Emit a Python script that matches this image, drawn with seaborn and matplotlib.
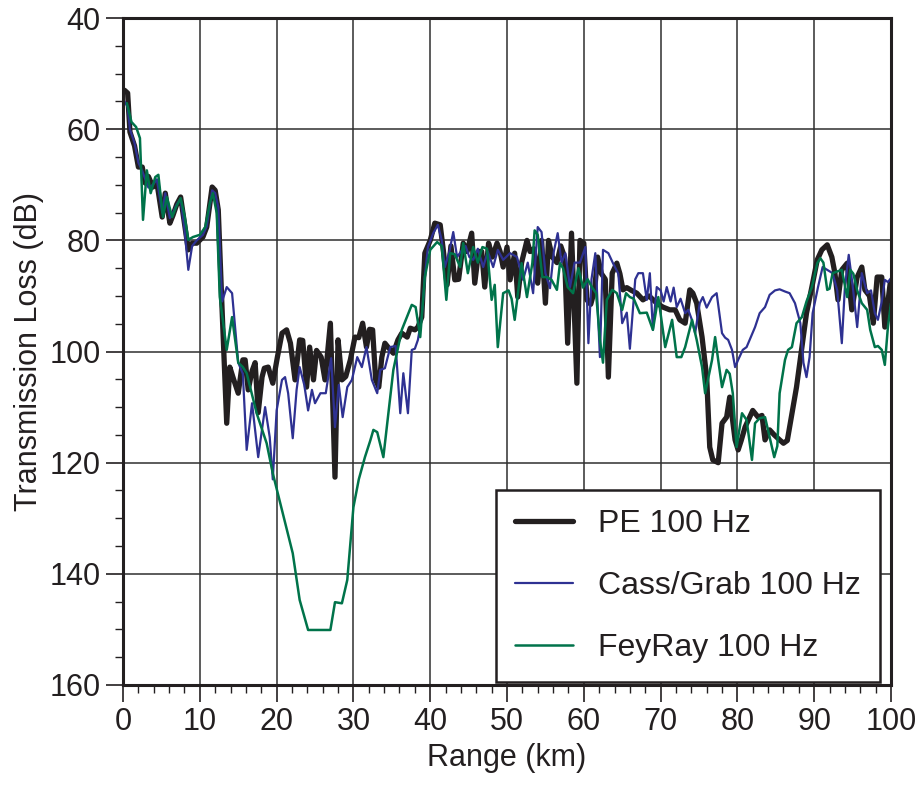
import matplotlib
matplotlib.use("Agg")
import matplotlib.pyplot as plt
from matplotlib.ticker import MultipleLocator
import seaborn as sns

# PE 100 Hz (thick black)
pe_range = [0.2, 0.6, 0.9, 1.5, 2.0, 2.5, 2.9, 3.3, 3.9, 4.4, 5.1, 5.5, 6.1, 6.5, 7.0, 7.5, 8.0, 8.5, 9.0, 9.6,
            10.4, 10.9, 11.6, 12.0, 12.4, 12.9, 13.5, 13.9, 14.4, 15.0, 15.6, 15.9, 16.3, 16.8, 17.2, 17.6, 18.1, 18.4, 18.9, 19.5,
            20.1, 20.7, 21.3, 21.8, 22.4, 23.0, 23.4, 23.9, 24.3, 24.8, 25.2, 25.8, 26.3, 27.0, 27.6, 28.0, 28.5, 29.0, 29.6, 30.2,
            30.7, 31.2, 31.7, 32.1, 32.5, 32.9, 33.3, 33.7, 34.1, 34.5, 35.2, 35.8, 36.3, 37.0, 37.4, 38.0, 38.4, 38.9, 39.3, 40.0,
            40.6, 41.3, 41.7, 42.2, 42.7, 43.2, 43.7, 44.3, 44.8, 45.4, 45.8, 46.3, 46.7, 47.1, 47.6, 48.1, 48.7, 49.1, 49.5, 50.0,
            50.4, 51.0, 51.4, 51.9, 52.6, 53.0, 53.5, 54.0, 54.5, 55.0, 55.4, 55.9, 56.5, 57.0, 57.5, 57.9, 58.4, 59.1, 59.5, 60.0,
            60.4, 60.9, 61.4, 61.8, 62.3, 62.8, 63.2, 63.7, 64.3, 64.7, 65.1, 65.6, 66.2, 66.9, 67.7, 68.5, 69.5, 70.3, 71.2, 71.9,
            72.5, 73.2, 73.8, 74.2, 74.7, 75.4, 76.0, 76.4, 76.8, 77.5, 78.0, 78.6, 79.0, 79.7, 80.1, 80.5, 81.0, 81.6, 82.0, 82.7,
            83.2, 83.6, 84.2, 84.8, 85.5, 86.0, 86.5, 87.0, 87.7, 88.4, 89.0, 89.7, 90.4, 91.0, 91.7, 92.3, 92.7, 93.1, 93.6, 94.3,
            94.9, 95.6, 96.2, 96.6, 97.2, 97.7, 98.2, 98.8, 99.2, 99.9]
pe_loss = [53, 53.5, 60.5, 63, 66.8, 66.8, 69.7, 68.5, 70.4, 69.5, 75.8, 71.5, 76.9, 75.5, 73.5, 72.2, 77, 81.7, 80.5, 80.5,
           79.4, 77.6, 70.4, 71, 74.5, 92.5, 112.9, 102.8, 105, 107.5, 101.5, 101.5, 106.9, 103.5, 102, 111, 104.6, 103, 102.8, 105.7,
           101, 96.7, 96.1, 98.5, 105.1, 97.9, 98, 106.4, 99.2, 105.1, 99.8, 101, 105.1, 94.9, 122.6, 97.9, 105.1, 104.5, 101.5, 97.4,
           97.5, 94.9, 99.2, 96, 96.1, 105.1, 106.4, 101, 98.5, 99.2, 100.3, 97.9, 96.7, 97.4, 95.8, 96.1, 95.6, 93.8, 82.3, 80,
           76.9, 77.2, 81.7, 88, 81, 87.1, 87, 80.5, 82, 78.7, 87.7, 82, 82, 88.4, 80.5, 83, 80.5, 82, 84.8, 81.2,
           87.1, 82.3, 90.2, 84, 80, 82, 81.5, 87.7, 80, 91.3, 80, 83, 84, 81, 83, 98.5, 78.7, 105.7, 80, 80.5,
           90.7, 91.5, 89, 83, 86, 87, 104.6, 85.9, 84.1, 86, 88.9, 88.5, 89, 89.5, 90.7, 90, 91.3, 92, 92.5, 92.5,
           94.3, 94.9, 88.9, 89.5, 91.3, 97.4, 104.6, 117.2, 119.5, 120, 112.9, 111.8, 108.2, 115.9, 117.7, 116, 113.6, 111.8, 110.6, 111.8,
           111.5, 115.9, 114.1, 115, 115.9, 116.5, 116, 112, 106.4, 99.2, 93.1, 88.4, 83.5, 81.7, 80.8, 83, 85.9, 90.7, 85.3, 84.1,
           92.5, 86.6, 84.8, 88.9, 90, 94.9, 86.6, 86.6, 95.6, 87.7]

# Cass/Grab 100 Hz (blue)
cass_range = [0.2, 0.6, 0.9, 1.5, 2.0, 2.5, 2.9, 3.3, 3.9, 4.4, 5.1, 5.5, 6.1, 6.5, 7.0, 7.5, 8.0, 8.5, 9.0, 9.6,
              10.4, 10.9, 11.6, 12.0, 12.4, 12.9, 13.5, 14.2, 15.0, 15.6, 16.1, 16.8, 17.6, 18.5, 19.1, 19.5, 20.0, 20.7, 21.1, 21.5,
              22.1, 22.6, 23.0, 23.6, 24.1, 24.6, 25.0, 25.7, 26.4, 27.1, 27.6, 28.1, 28.6, 29.2, 29.8, 30.5, 31.1, 31.7, 32.4, 33.1,
              33.5, 34.1, 34.8, 35.5, 36.1, 36.5, 37.1, 37.6, 38.0, 38.4, 38.9, 39.3, 39.7, 40.4, 41.0, 41.5, 41.9, 42.5, 43.0, 43.5,
              44.0, 44.6, 45.1, 45.6, 46.2, 46.9, 47.5, 48.2, 48.8, 49.5, 50.4, 51.3, 52.1, 52.7, 53.4, 54.0, 54.5, 55.0, 55.6, 56.1,
              56.6, 57.1, 57.6, 58.2, 58.8, 59.5, 60.2, 60.6, 61.0, 61.5, 62.1, 62.5, 63.2, 63.8, 64.5, 65.0, 65.6, 66.0, 66.7, 67.1,
              67.7, 68.2, 68.6, 69.0, 69.5, 70.0, 70.4, 70.8, 71.3, 71.7, 72.1, 72.6, 73.2, 73.6, 74.0, 74.5, 75.1, 75.5, 76.0, 76.7,
              77.3, 78.0, 78.4, 78.8, 79.3, 79.7, 80.1, 80.7, 81.2, 81.6, 82.3, 82.9, 83.6, 84.2, 84.9, 85.5, 86.2, 86.8, 87.5, 88.2,
              88.6, 89.0, 89.4, 89.8, 90.5, 91.1, 91.7, 92.4, 93.0, 93.6, 94.0, 94.5, 95.0, 95.6, 96.2, 96.9, 97.4, 97.9, 98.3, 98.8,
              99.2, 99.6, 100.0]
cass_loss = [55, 56, 60, 62.5, 66, 67.5, 69, 70.5, 70, 69, 75, 71.5, 76, 75, 73.5, 72.5, 78, 85.3, 81, 80,
             79, 77.5, 71, 71.5, 74, 91, 88.4, 89.5, 102, 104, 117.7, 109.3, 119, 110, 115.4, 123, 110.6, 105.1, 104.6, 107.5,
             115.6, 106.9, 102.8, 106, 110.6, 106.9, 109.3, 107.5, 107.5, 101.2, 113.6, 106, 111.8, 106.4, 105.1, 101, 102.8, 99.2, 105.1, 107.5,
             103.3, 103, 99.2, 99, 111.1, 103.9, 111.1, 99.7, 99.5, 97.9, 93.8, 86.6, 81.2, 78.7, 77.2, 80, 84.8, 82, 78.5, 83,
             82, 81, 83, 83.5, 81.5, 84.8, 82, 84.8, 81.7, 83.5, 82.3, 83, 87.1, 84, 89.5, 77.6, 78.5, 85.9, 88.6, 82,
             78.7, 84, 82.3, 88.4, 84, 84, 81.2, 98.5, 87, 82.3, 101, 81.7, 82.3, 84.1, 86, 94.9, 93, 99.5, 87, 85.9,
             85.9, 90.7, 85.9, 96.1, 88.4, 89, 91, 88.4, 91, 88.5, 92, 90.5, 93.1, 92.5, 94, 96.7, 91.3, 90.2, 92.1, 90.2,
             89.5, 96.7, 97.5, 97.9, 99.7, 102.8, 101.5, 99.7, 99.2, 97.9, 95.6, 93.1, 92, 89.8, 89, 88.8, 89.2, 89.5, 91.3, 94.9,
             102, 104.6, 101, 93.1, 88.4, 84.8, 85.3, 85.9, 89, 98.5, 88.4, 82.6, 88, 95.6, 85.9, 89.5, 89, 93.1, 94.3, 91,
             87.1, 87.5, 86.8]

# FeyRay 100 Hz (green)
fey_range = [0.5, 1.1, 1.7, 2.2, 2.6, 3.1, 3.6, 4.2, 4.6, 5.2, 5.7, 6.4, 6.9, 7.5, 8.0, 8.5, 9.1, 10.0, 10.7, 11.3,
             11.7, 12.2, 12.6, 13.5, 14.2, 15.0, 15.6, 16.1, 17.4, 18.7, 19.5, 20.8, 22.1, 23.0, 24.1, 27.0, 27.6, 28.5, 29.2, 30.0,
             30.7, 31.5, 32.2, 32.6, 33.1, 33.9, 35.2, 36.3, 37.6, 38.1, 38.7, 39.3, 40.0, 40.9, 41.5, 42.1, 42.6, 43.2, 43.9, 44.3,
             44.9, 45.6, 46.2, 46.8, 47.4, 48.0, 48.4, 48.8, 49.5, 50.2, 50.6, 51.0, 51.9, 52.6, 53.3, 53.6, 54.0, 54.6, 55.2, 55.8,
             56.5, 56.9, 57.3, 57.9, 58.6, 59.3, 59.9, 60.5, 61.1, 61.6, 62.1, 62.5, 63.0, 63.7, 64.3, 65.0, 65.5, 66.0, 66.5, 67.3,
             68.2, 69.0, 69.7, 70.6, 71.5, 72.1, 72.7, 73.2, 74.1, 74.7, 75.4, 75.8, 76.7, 77.1, 77.5, 78.0, 78.6, 79.0, 79.4, 79.9,
             80.6, 81.2, 81.9, 82.3, 82.9, 83.6, 84.2, 84.8, 85.2, 85.5, 86.2, 86.6, 87.1, 87.7, 88.4, 89.0, 89.7, 90.4, 90.8, 91.2,
             91.7, 92.0, 92.4, 93.6, 94.3, 94.7, 95.1, 95.6, 96.2, 96.9, 97.3, 97.9, 98.3, 98.8, 99.2, 99.6, 100.0]
fey_loss = [55.3, 58.7, 59.6, 61.6, 76.3, 67.4, 71.5, 68.6, 68.2, 75.8, 72.2, 75.8, 74, 72.4, 75.5, 79.9, 79.4, 79, 77.6, 73.3,
            71.5, 75.1, 90.2, 99.7, 93.8, 102, 102.8, 103.9, 111.1, 116.5, 121.9, 129.1, 136.3, 144.7, 150.1, 150.1, 145.1, 145.3, 141.1, 128,
            123, 119, 116, 114.1, 114.5, 119, 103.3, 96.1, 91.6, 92, 97.4, 86.6, 81.7, 80.3, 81, 90.7, 82.3, 82.5, 84.8, 80.5,
            85.9, 81.2, 84, 81.2, 81.5, 90.7, 88, 99.2, 89.5, 89, 90.5, 94.3, 84.1, 90.2, 84.1, 78.2, 79, 86.6, 86.6, 87.1,
            88.9, 84.1, 85, 88.4, 89.5, 85, 88.5, 87, 88.5, 89.5, 97.9, 102, 90.7, 88.9, 89.5, 92.5, 89.5, 90.2, 90.5, 93.1,
            93, 96.1, 90.2, 99.2, 94.3, 101, 101, 99.2, 94.3, 97.9, 102.8, 107.5, 101.5, 97.4, 101.5, 106.4, 103.3, 104, 107.5, 117.2,
            111.1, 112.3, 119.5, 112.9, 112, 111.8, 115.4, 119, 117, 107.5, 101.5, 99.7, 99.2, 94.9, 93.8, 91, 88.4, 84.1, 83.2, 84,
            88.9, 88.7, 85.9, 85.3, 90.2, 85.3, 86, 89, 91.3, 92.5, 96.1, 99.2, 99, 99.7, 102.4, 95.6, 91.3]

sns.set_style("ticks")
plt.rcParams["font.family"] = ["Liberation Sans", "DejaVu Sans"]

fig = plt.figure(figsize=(9.23, 7.86), dpi=100)
ax = fig.add_axes([0.1333, 0.1285, 0.8320, 0.8485])

sns.lineplot(x=pe_range, y=pe_loss, color="#231f20", linewidth=3.8, label="PE 100 Hz",
             estimator=None, sort=False, ax=ax)
sns.lineplot(x=cass_range, y=cass_loss, color="#2e3192", linewidth=1.6, label="Cass/Grab 100 Hz",
             estimator=None, sort=False, ax=ax)
sns.lineplot(x=fey_range, y=fey_loss, color="#00734a", linewidth=1.8, label="FeyRay 100 Hz",
             estimator=None, sort=False, ax=ax)

ax.set_xlim(0, 100)
ax.set_ylim(160, 40)
ax.xaxis.set_major_locator(MultipleLocator(10))
ax.xaxis.set_minor_locator(MultipleLocator(2))
ax.yaxis.set_major_locator(MultipleLocator(20))
ax.yaxis.set_minor_locator(MultipleLocator(5))
ax.grid(True, which="major", color="#2f2f2f", linewidth=1.1)
ax.set_axisbelow(True)

ax.tick_params(which="major", length=12, width=1.2, direction="out", labelsize=22, pad=4,
               color="#231f20", labelcolor="#231f20", bottom=True, left=True)
ax.tick_params(which="minor", length=6, width=1.0, direction="out", color="#231f20",
               bottom=True, left=True)
for side in ["left", "right", "top", "bottom"]:
    ax.spines[side].set_visible(True)
    ax.spines[side].set_linewidth(2.2)
    ax.spines[side].set_color("#231f20")

ax.set_xlabel("Range (km)", fontsize=22, color="#231f20")
ax.set_ylabel("Transmission Loss (dB)", fontsize=22, color="#231f20")

leg = ax.legend(loc="lower right", bbox_to_anchor=(0.986, 0.004), borderaxespad=0,
                fontsize=23, frameon=True, fancybox=False, framealpha=1,
                edgecolor="#231f20", borderpad=0.6, handlelength=1.8,
                handletextpad=0.8, labelspacing=1.0)
leg.get_frame().set_linewidth(1.8)
for t in leg.get_texts():
    t.set_color("#231f20")

plt.savefig("out.png", dpi=100)
